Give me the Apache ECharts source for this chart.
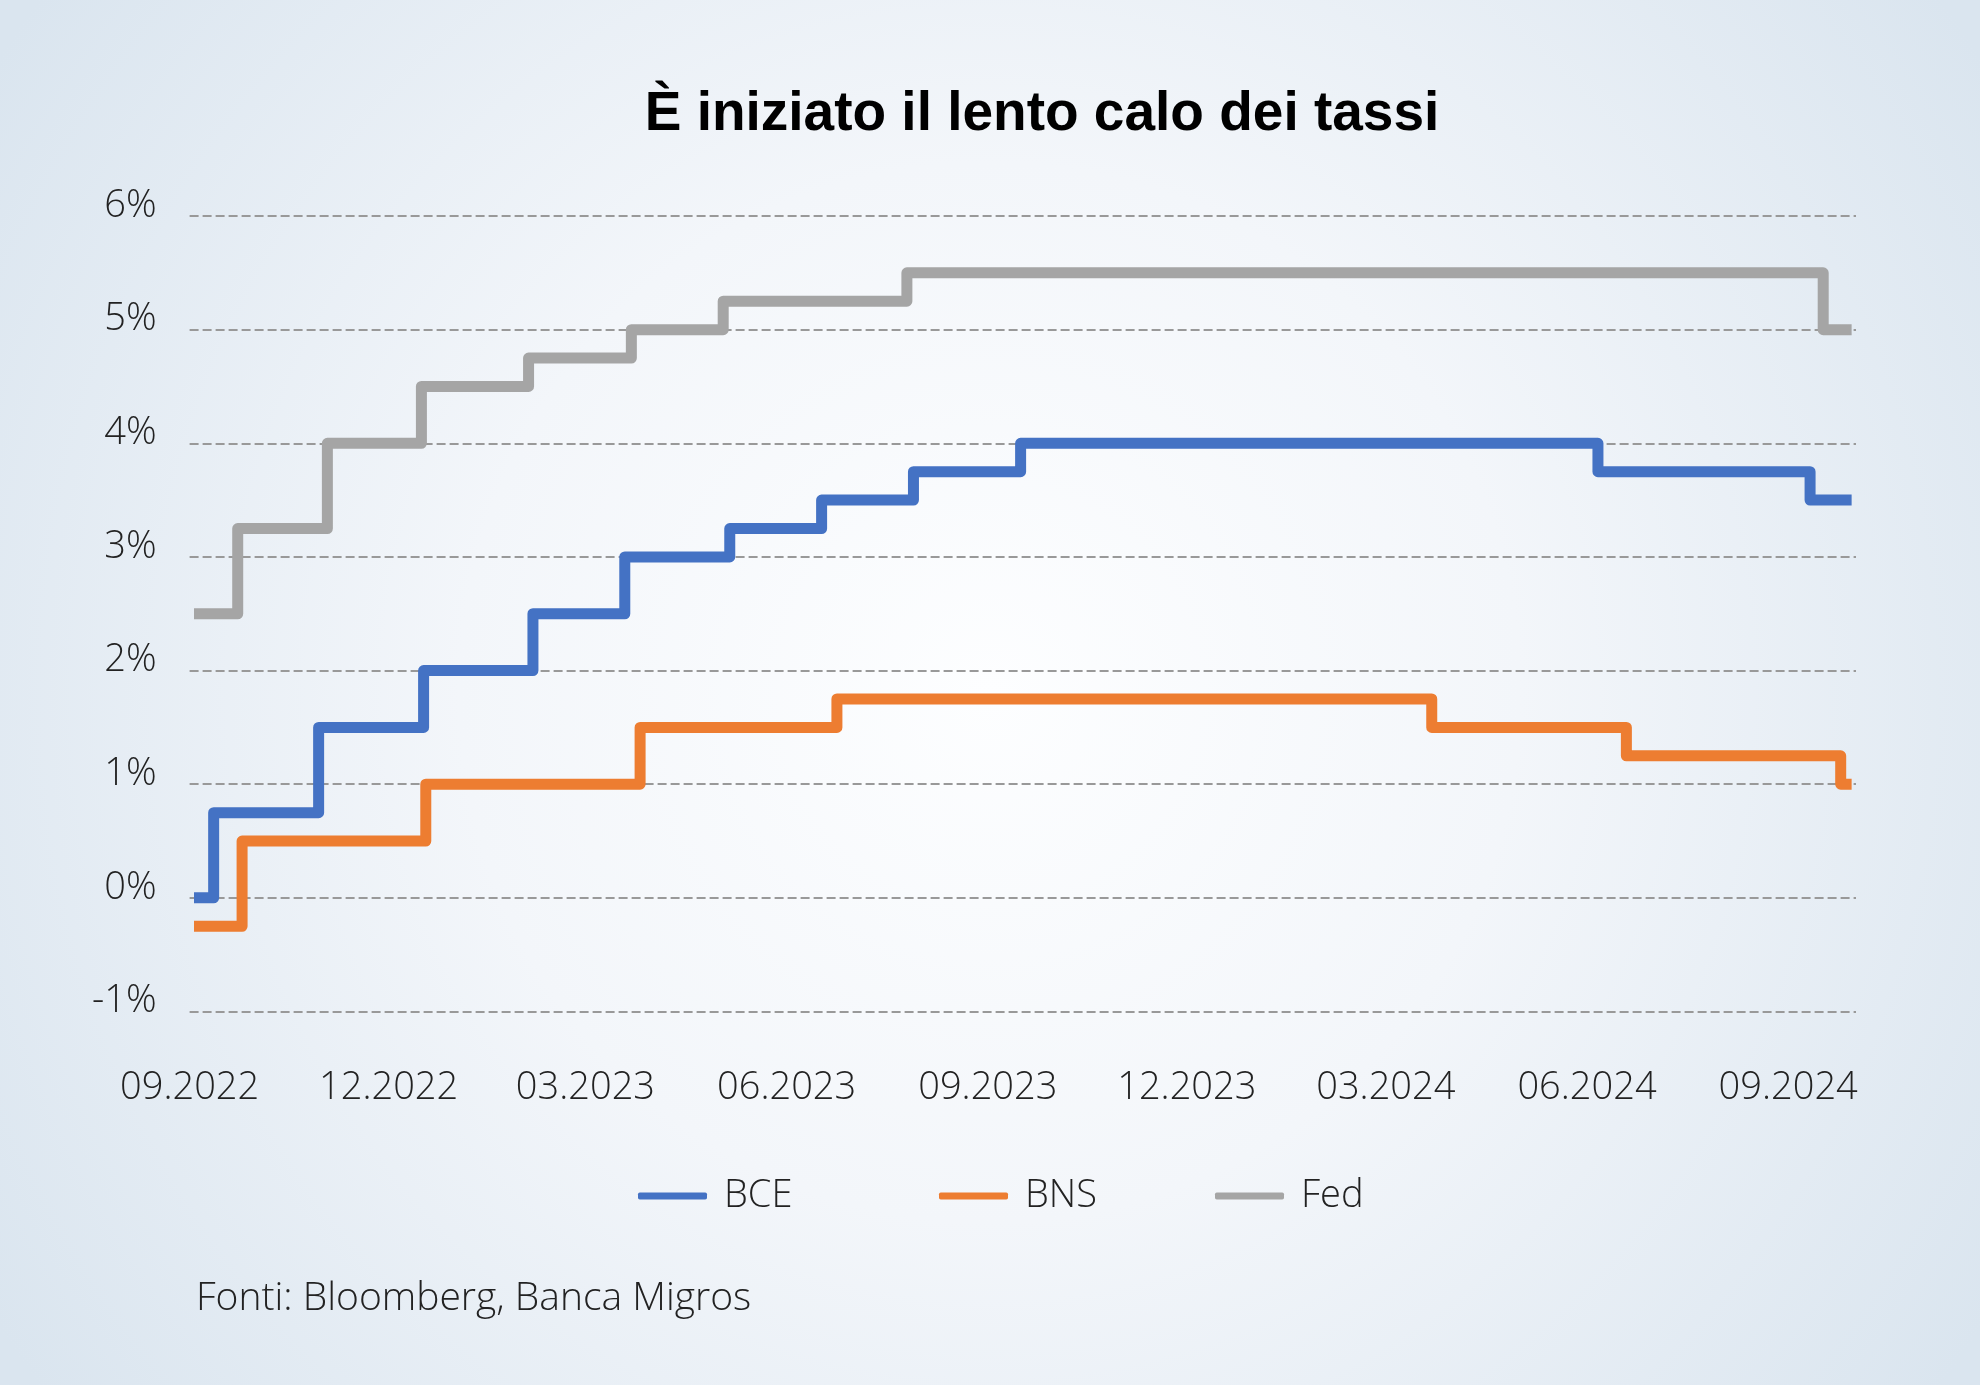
<!DOCTYPE html>
<html><head><meta charset="utf-8">
<script src="https://cdn.jsdelivr.net/npm/echarts@6/dist/echarts.min.js"></script>
<style>html,body{margin:0;padding:0;width:1980px;height:1385px;overflow:hidden;background:#eef3f8}#c{width:1980px;height:1385px}</style>
</head><body><div id="c"></div>
<script>
// ---- data ----
const chartTitle = 'È iniziato il lento calo dei tassi';
const sourceText = 'Fonti: Bloomberg, Banca Migros';
const seriesNames = ['BCE', 'BNS', 'Fed'];
const xTickDates = ['2022-09-01','2022-12-01','2023-03-01','2023-06-01','2023-09-01','2023-12-01','2024-03-01','2024-06-01','2024-09-01'];
const xRange = ['2022-09-01', '2024-10-02'];
const yRange = [-1, 6];

const bceDates  = ['2022-09-03','2022-09-12','2022-10-30','2022-12-17','2023-02-05','2023-03-19','2023-05-06','2023-06-17','2023-07-29','2023-09-16','2024-06-06','2024-09-11','2024-09-30'];
const bceValues = [0, 0.75, 1.5, 2.0, 2.5, 3.0, 3.25, 3.5, 3.75, 4.0, 3.75, 3.5, 3.5];
const bnsDates  = ['2022-09-03','2022-09-25','2022-12-18','2023-03-26','2023-06-24','2024-03-22','2024-06-19','2024-09-25','2024-09-30'];
const bnsValues = [-0.25, 0.5, 1.0, 1.5, 1.75, 1.5, 1.25, 1.0, 1.0];
const fedDates  = ['2022-09-03','2022-09-23','2022-11-03','2022-12-16','2023-02-03','2023-03-22','2023-05-03','2023-07-26','2024-09-17','2024-09-30'];
const fedValues = [2.5, 3.25, 4.0, 4.5, 4.75, 5.0, 5.25, 5.5, 5.0, 5.0];

// ---- helpers ----
function ts(s) { const p = s.split('-').map(Number); return new Date(p[0], p[1] - 1, p[2]).getTime(); }
function pairs(d, v) { return d.map((x, i) => [ts(x), v[i]]); }
function pad(n) { return (n < 10 ? '0' : '') + n; }

const FONT = '"Open Sans", "Noto Sans", sans-serif';
const TXT = '#222222';
const colors = ['#4472c4', '#ed7d31', '#a5a5a5'];

const chart = echarts.init(document.getElementById('c'), null, { renderer: 'canvas', width: 1980, height: 1385 });

function legendFor(name, left) {
  return {
    data: [name], left: left, top: 1177, orient: 'horizontal', padding: 0,
    icon: 'roundRect', itemWidth: 69, itemHeight: 7, itemGap: 0,
    textStyle: { fontSize: 38, fontFamily: FONT, fontWeight: 300, color: TXT, lineHeight: 38, padding: [0, 0, 0, 12] },
    selectedMode: false
  };
}

function lineSeries(name, data, color) {
  return {
    name: name, type: 'line', step: 'end', data: data, symbol: 'none', showSymbol: false,
    color: color, itemStyle: { color: color },
    lineStyle: { width: 11, color: color, join: 'round', cap: 'butt' },
    emphasis: { disabled: true }, silent: true, animation: false, z: 3
  };
}

const option = {
  animation: false,
  backgroundColor: {
    type: 'radial', x: 0.5, y: 0.5, r: 0.85,
    colorStops: [
      { offset: 0, color: '#fdfeff' },
      { offset: 0.45, color: '#f3f6fa' },
      { offset: 1, color: '#dae5ef' }
    ]
  },
  grid: { left: 189.6, right: 124, top: 216, bottom: 373.5, containLabel: false, outerBoundsMode: 'none' },
  xAxis: {
    type: 'value', min: ts(xRange[0]), max: ts(xRange[1]), scale: true,
    axisLine: { show: false }, axisTick: { show: false }, splitLine: { show: false },
    axisLabel: {
      customValues: xTickDates.map(ts),
      formatter: function (v) { const d = new Date(v); return pad(d.getMonth() + 1) + '.' + d.getFullYear(); },
      fontSize: 38, fontFamily: FONT, fontWeight: 300, color: TXT,
      verticalAlign: 'middle', margin: 77, hideOverlap: false, showMinLabel: true, showMaxLabel: true
    }
  },
  yAxis: {
    type: 'value', min: yRange[0], max: yRange[1], interval: 1,
    axisLine: { show: false }, axisTick: { show: false },
    axisLabel: {
      formatter: function (v) { return v + '%'; },
      fontSize: 38, fontFamily: FONT, fontWeight: 300, color: TXT,
      margin: 33, verticalAlign: 'bottom', lineHeight: 20
    },
    splitLine: { show: true, lineStyle: { color: '#999999', width: 2, type: [9, 4] } }
  },
  legend: [legendFor(seriesNames[0], 638), legendFor(seriesNames[1], 939), legendFor(seriesNames[2], 1215)],
  series: [
    lineSeries(seriesNames[0], pairs(bceDates, bceValues), colors[0]),
    lineSeries(seriesNames[1], pairs(bnsDates, bnsValues), colors[1]),
    lineSeries(seriesNames[2], pairs(fedDates, fedValues), colors[2])
  ],
  graphic: [
    { type: 'text', x: 1042, y: 115, silent: true,
      style: { text: chartTitle, fill: '#000', fontSize: 55, fontWeight: 'bold', fontFamily: '"Liberation Sans", Arial, sans-serif', align: 'center', verticalAlign: 'middle' } },
    { type: 'text', x: 196, y: 1299, silent: true,
      style: { text: sourceText, fill: TXT, fontSize: 39, fontWeight: 300, fontFamily: FONT, align: 'left', verticalAlign: 'middle' } }
  ]
};
chart.setOption(option);
</script>
</body></html>
